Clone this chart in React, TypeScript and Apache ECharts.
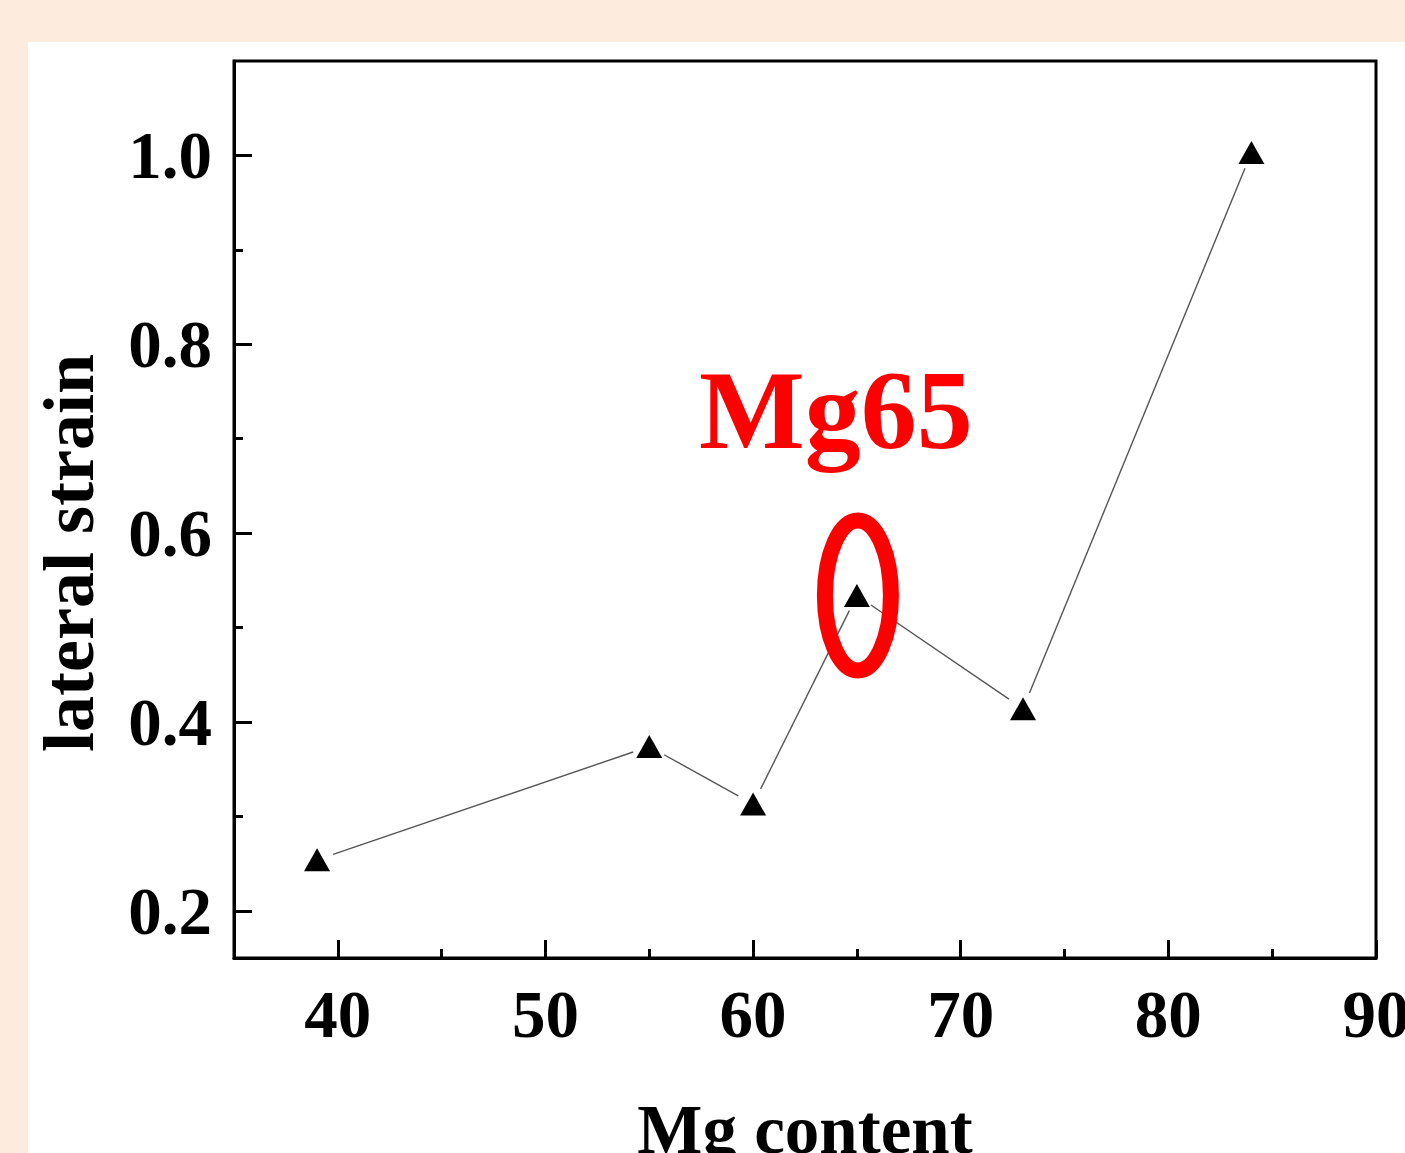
import React, { useEffect, useRef } from "react";
import * as echarts from "echarts";

const mgContent = [39, 55, 60, 65, 73, 84];
const lateralStrain = [0.254, 0.374, 0.313, 0.534, 0.414, 1.003];
const xMajorTicks = [40, 50, 60, 70, 80, 90];
const xMinorTicks = [45, 55, 65, 75, 85];
const yMajorTicks = [0.2, 0.4, 0.6, 0.8, 1.0];
const yMinorTicks = [0.3, 0.5, 0.7, 0.9];
const highlightMg = 65;
const highlightLabel = "Mg65";
const xTitle = "Mg content";
const yTitle = "lateral strain";

const FONT = '"Liberation Serif", "Times New Roman", serif';

export default function App() {
  const ref = useRef<HTMLDivElement>(null);

  useEffect(() => {
    const chart = echarts.init(ref.current as HTMLDivElement, null, { renderer: "svg" });
    const points = mgContent.map((x, i) => [x, lateralStrain[i]]);
    const segments = mgContent
      .slice(0, -1)
      .map((x, i) => [x, lateralStrain[i], mgContent[i + 1], lateralStrain[i + 1]]);

    const labelStyle = {
      color: "#000",
      fontFamily: FONT,
      fontWeight: "bold",
      fontSize: 67,
    };

    chart.setOption({
      animation: false,
      backgroundColor: "transparent",
      grid: {
        left: 234,
        top: 61,
        right: 29,
        bottom: 195,
        show: true,
        borderColor: "#000",
        borderWidth: 3,
        backgroundColor: "transparent",
        containLabel: false,
        outerBoundsMode: "none",
      },
      xAxis: [
        {
          type: "value",
          position: "bottom",
          min: 35,
          max: 90,
          splitLine: { show: false },
          axisLine: { show: true, lineStyle: { color: "#000", width: 3 } },
          axisTick: {
            show: true,
            inside: true,
            length: 18,
            customValues: xMajorTicks,
            lineStyle: { color: "#000", width: 3 },
          },
          axisLabel: {
            ...labelStyle,
            margin: 22,
            customValues: xMajorTicks,
            formatter: (v: number) => String(v),
          },
          name: xTitle,
          nameLocation: "middle",
          nameGap: 137,
          nameMoveOverlap: false,
          nameTextStyle: { ...labelStyle, fontSize: 69 },
        },
        {
          type: "value",
          position: "bottom",
          min: 35,
          max: 90,
          splitLine: { show: false },
          axisLine: { show: false },
          axisLabel: { show: false },
          axisTick: {
            show: true,
            inside: true,
            length: 9,
            customValues: xMinorTicks,
            lineStyle: { color: "#000", width: 3 },
          },
        },
      ],
      yAxis: [
        {
          type: "value",
          position: "left",
          min: 0.15,
          max: 1.1,
          splitLine: { show: false },
          axisLine: { show: true, lineStyle: { color: "#000", width: 3 } },
          axisTick: {
            show: true,
            inside: true,
            length: 18,
            customValues: yMajorTicks,
            lineStyle: { color: "#000", width: 3 },
          },
          axisLabel: {
            ...labelStyle,
            margin: 22,
            customValues: yMajorTicks,
            formatter: (v: number) => v.toFixed(1),
          },
        },
        {
          type: "value",
          position: "left",
          min: 0.15,
          max: 1.1,
          splitLine: { show: false },
          axisLine: { show: false },
          axisLabel: { show: false },
          axisTick: {
            show: true,
            inside: true,
            length: 9,
            customValues: yMinorTicks,
            lineStyle: { color: "#000", width: 3 },
          },
        },
      ],
      series: [
        {
          type: "custom",
          xAxisIndex: 0,
          yAxisIndex: 0,
          data: segments,
          encode: { x: [0, 2], y: [1, 3] },
          silent: true,
          z: 1,
          renderItem: (_params: any, api: any) => {
            const a = api.coord([api.value(0), api.value(1)]);
            const b = api.coord([api.value(2), api.value(3)]);
            const dx = b[0] - a[0];
            const dy = b[1] - a[1];
            const len = Math.hypot(dx, dy) || 1;
            const ux = dx / len;
            const uy = dy / len;
            const g = 17;
            return {
              type: "line",
              shape: {
                x1: a[0] + ux * g,
                y1: a[1] + uy * g,
                x2: b[0] - ux * g,
                y2: b[1] - uy * g,
              },
              style: { stroke: "#555", lineWidth: 1.4 },
            };
          },
        },
        {
          type: "scatter",
          xAxisIndex: 0,
          yAxisIndex: 0,
          data: points,
          symbol: "triangle",
          symbolSize: [26, 23],
          itemStyle: { color: "#000", opacity: 1 },
          z: 3,
        },
      ],
    });

    const hiIdx = mgContent.indexOf(highlightMg);
    const p = chart.convertToPixel({ seriesIndex: 1 }, points[hiIdx]) as number[];

    chart.setOption({
      graphic: [
        {
          type: "ellipse",
          shape: { cx: p[0] + 1, cy: p[1], rx: 33, ry: 75 },
          style: { fill: "none", stroke: "#ff0000", lineWidth: 16 },
          z: 100,
        },
        {
          type: "text",
          x: p[0] - 21,
          y: p[1] - 185,
          style: {
            text: highlightLabel,
            fill: "#ff0000",
            fontFamily: FONT,
            fontWeight: "bold",
            fontSize: 112,
            align: "center",
            verticalAlign: "middle",
            textAlign: "center",
            textVerticalAlign: "middle",
          },
          z: 100,
        },
        {
          type: "text",
          x: 69,
          y: 553,
          rotation: Math.PI / 2,
          style: {
            text: yTitle,
            fill: "#000",
            fontFamily: FONT,
            fontWeight: "bold",
            fontSize: 72,
            align: "center",
            verticalAlign: "middle",
            textAlign: "center",
            textVerticalAlign: "middle",
          },
          z: 100,
        },
      ],
    });

    return () => chart.dispose();
  }, []);

  return (
    <div
      style={{
        position: "absolute",
        left: 0,
        top: 0,
        width: 1405,
        height: 1153,
        background: "#FDEBDD",
        overflow: "hidden",
      }}
    >
      <div
        style={{
          position: "absolute",
          left: 28,
          top: 42,
          right: 0,
          bottom: 0,
          background: "#FFFFFF",
        }}
      />
      <div
        ref={ref}
        style={{ position: "absolute", left: 0, top: 0, width: 1405, height: 1153 }}
      />
    </div>
  );
}
